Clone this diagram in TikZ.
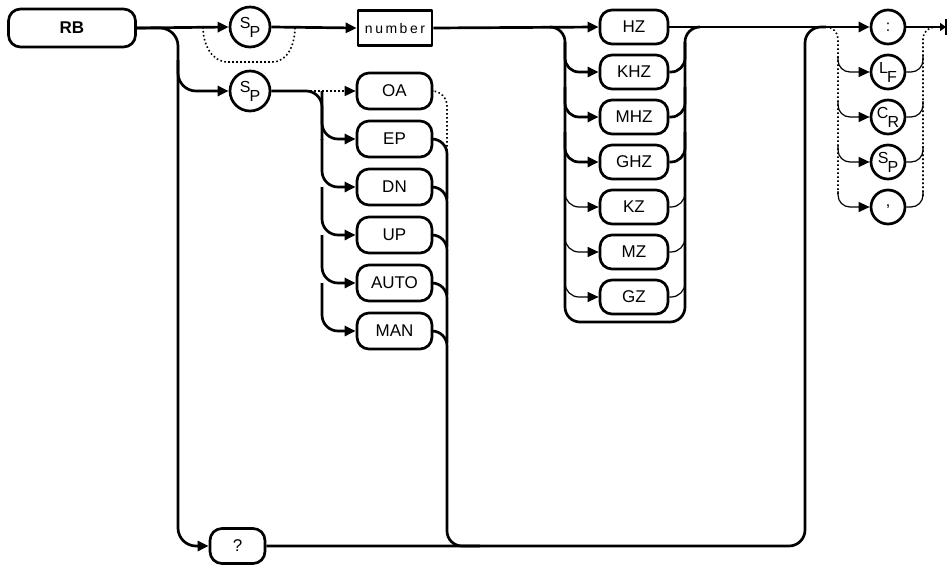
\documentclass[tikz,border=0pt]{standalone}
\usepackage{fontspec}
\setmainfont{Liberation Sans}
\usetikzlibrary{arrows.meta}
\begin{document}
\begin{tikzpicture}[x=1pt,y=-1pt,
  line width=2.7pt, line join=round,
  tip/.style={-{Triangle[length=11pt,width=10pt]}},
  endtip/.style={-{Triangle[length=6pt,width=8pt]}},
  thinline/.style={line width=1.2pt},
  dotline/.style={line width=1.6pt,dash pattern=on 1.6pt off 2.4pt},
  kw/.style={draw,rounded corners=12pt,minimum height=35pt,inner sep=0pt,
    font=\fontsize{17}{17}\selectfont},
  unitbox/.style={kw,minimum width=68pt,minimum height=34pt},
  optbox/.style={kw,minimum width=75pt,minimum height=36pt},
  spc/.style={draw,circle,minimum size=40pt,inner sep=0pt,
    font=\fontsize{16}{16}\selectfont},
  term/.style={draw,circle,minimum size=34pt,inner sep=0pt,
    font=\fontsize{16}{16}\selectfont},
  rc/.style={rounded corners=#1}
]
\useasboundingbox (0,0) rectangle (949,565);

% nodes
\node[kw,minimum width=127pt,minimum height=38pt,font=\fontsize{17}{17}\selectfont\bfseries] (RB) at (72,28) {RB};
\node[spc] (sp1) at (250,27) {\raisebox{4pt}{S}\kern-1pt\raisebox{-5pt}{P}};
\node[draw,rectangle,minimum width=74pt,minimum height=35pt,inner sep=0pt,
  font=\fontsize{14}{14}\selectfont\addfontfeatures{LetterSpace=18}] (num) at (395,28) {number};
\node[spc] (sp2) at (250,91) {\raisebox{4pt}{S}\kern-1pt\raisebox{-5pt}{P}};

\foreach \n/\t/\y in {OA/OA/91,EP/EP/139,DN/DN/187,UP/UP/235,AUTO/AUTO/283,MAN/MAN/331}
  \node[optbox] (\n) at (394.5,\y) {\t};

\foreach \n/\y in {HZ/27,KHZ/72,MHZ/117,GHZ/162,KZ/207,MZ/252,GZ/297}
  \node[unitbox] (\n) at (634,\y) {\n};

\node[kw,minimum width=55pt] (q) at (237.5,546) {?};

\node[term] (colon) at (888,27) {:};
\node[term] (lf) at (888,72) {\raisebox{4pt}{L}\kern-1pt\raisebox{-5pt}{F}};
\node[term] (cr) at (888,117) {\raisebox{4pt}{C}\kern-1pt\raisebox{-5pt}{R}};
\node[term] (sp3) at (888,162) {\raisebox{4pt}{S}\kern-1pt\raisebox{-5pt}{P}};
\node[term] (comma) at (888,207) {,};

\coordinate (endpt) at (946,27);
\coordinate (ubr) at (550,27);
\coordinate (bbr) at (826,27);

% main line
\draw[tip] (RB.east) -- (sp1.west);
\draw[tip] (sp1.east) -- (num.west);
\draw[tip] (num.east) -- (HZ.west);
\draw[tip] (HZ.east) -- (colon.west);
\draw[endtip] (colon.east) -- (endpt);
\draw[line width=2.4pt] ([yshift=-8pt]endpt) -- ([yshift=8pt]endpt);

% optional space bypass
\draw[dotline] (203,27) to[out=-90,in=180] (228,62) -- (272,62) to[out=0,in=-90] (295,27);

% left trunk to ?
\draw[rc=18pt,tip] (RB.east) -| (178,546) -- (q.west);
\draw[rc=18pt,tip] (178,60) |- (sp2.west);

% option group
\draw[rc=16pt] (sp2.east) -| (322,140);
\draw[dotline,tip] (306,91) -- (OA.west);
\foreach \n/\y in {EP/139,DN/187,UP/235,AUTO/283,MAN/331}
  \draw[rc=16pt,tip] (322,\y-48) |- (\n.west);
\draw[dotline,rc=15pt] (OA.east) -| (447,150);
\foreach \n/\y in {EP/139,DN/187,UP/235,AUTO/283}
  \draw[rc=15pt] (\n.east) -| (447,\y+60);
\draw[rc=15pt] (MAN.east) -| (447,546) -- (480,546);

% bottom line and right trunk
\draw[rc=16pt] (q.east) -| (805,27) -- (bbr);

% unit group
\draw[rc=15pt] (ubr) -| (565,322) -| (685,27) -- (700,27);
\foreach \n/\y in {KHZ/72,MHZ/117,GHZ/162}{
  \draw[rc=14pt,tip] (565,\y-30) |- (\n.west);
  \draw[rc=14pt] (\n.east) -| (685,\y-30);
}
\foreach \n/\y in {KZ/207,MZ/252,GZ/297}{
  \draw[thinline,rc=14pt,tip] (565,\y-30) |- (\n.west);
  \draw[thinline,rc=14pt] (\n.east) -| (685,\y-30);
}

% terminator group
\draw[dotline,rc=12pt] (bbr) -| (838,196);
\draw[dotline,rc=12pt] (923,196) |- (937,27);
\foreach \n/\y in {lf/72,cr/117,sp3/162,comma/207}{
  \draw[thinline,rc=12pt,tip] (838,\y-16) |- (\n.west);
  \draw[thinline,rc=12pt] (\n.east) -| (923,\y-16);
}
\end{tikzpicture}
\end{document}
